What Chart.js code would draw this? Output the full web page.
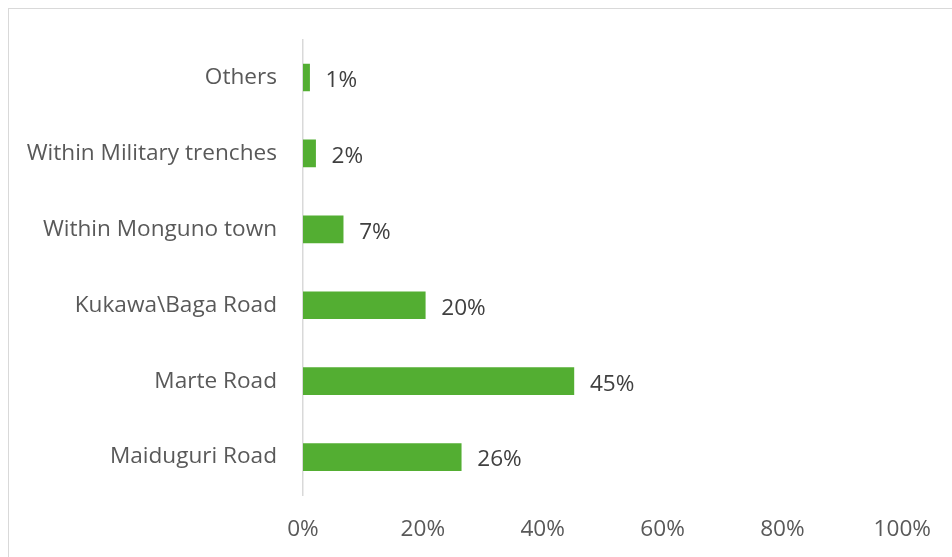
<!DOCTYPE html>
<html>
<head>
<meta charset="utf-8">
<script src="https://cdn.jsdelivr.net/npm/chart.js@4"></script>
<style>
  html, body { margin: 0; padding: 0; background: #fff; overflow: hidden; }
  #frame {
    position: absolute; left: 8px; top: 8px;
    width: 1000px; height: 600px;
    border: 1.5px solid #d9d9d9;
  }
  #myChart { position: absolute; left: 0; top: 0; }
</style>
</head>
<body>
<div id="frame"></div>
<canvas id="myChart" width="952" height="557"></canvas>
<script>
const categories = ['Others', 'Within Military trenches', 'Within Monguno town', 'Kukawa\\Baga Road', 'Marte Road', 'Maiduguri Road'];
const shares = [1.1, 2.1, 6.7, 20.4, 45.2, 26.4];
const xTicks = [0, 20, 40, 60, 80, 100];

const FONT = "'Open Sans', 'DejaVu Sans', sans-serif";

// draws the "45%" style labels to the right of each bar
const barLabels = {
  id: 'barLabels',
  afterDatasetsDraw(chart) {
    const ctx = chart.ctx;
    const meta = chart.getDatasetMeta(0);
    ctx.save();
    ctx.font = '22.6px ' + FONT;
    ctx.fillStyle = '#404040';
    ctx.textAlign = 'left';
    ctx.textBaseline = 'middle';
    meta.data.forEach((bar, i) => {
      ctx.fillText(Math.round(shares[i]) + '%', bar.x + 16, bar.y + 3);
    });
    ctx.restore();
  }
};

function makeChart() {
  const ctx = document.getElementById('myChart');

  // eslint-disable-next-line no-new
  const myChart = new Chart(ctx, {
    type: 'bar',
    data: {
      labels: categories,
      datasets: [{
        label: 'Share',
        data: shares,
        backgroundColor: '#53ae32',
        borderWidth: 0,
        barThickness: 27
      }]
    },
    options: {
      indexAxis: 'y',
      responsive: false,
      animation: false,
      layout: {
        padding: { top: 38, right: 46, left: 0, bottom: 0 }
      },
      plugins: {
        legend: { display: false },
        tooltip: { enabled: false }
      },
      scales: {
        x: {
          min: 0,
          max: 100,
          afterBuildTicks: scale => {
            scale.ticks = xTicks.map(v => ({ value: v }));
          },
          afterFit: scale => { scale.height = 62; },
          grid: { display: false, drawTicks: false },
          border: { display: false },
          ticks: {
            color: '#595959',
            padding: 21,
            font: { family: FONT, size: 22.6 },
            callback: v => v + '%'
          }
        },
        y: {
          afterFit: scale => { scale.width = 303; },
          grid: { display: false, drawTicks: false },
          border: { display: true, color: '#d9d9d9', width: 1.5 },
          ticks: {
            color: '#595959',
            padding: 26,
            font: { family: FONT, size: 22.6 }
          }
        }
      }
    },
    plugins: [barLabels]
  });
  return myChart;
}

document.addEventListener('DOMContentLoaded', function() {
  makeChart();
});
</script>
</body>
</html>
